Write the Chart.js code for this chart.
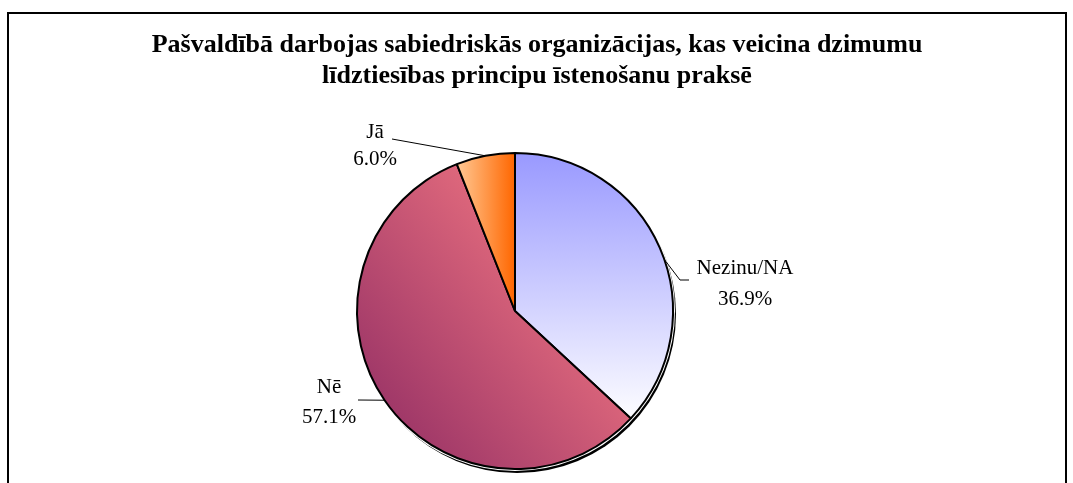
<!DOCTYPE html>
<html><head><meta charset="utf-8">
<script src="https://cdn.jsdelivr.net/npm/chart.js@4.4.0/dist/chart.umd.min.js"></script>
<style>html,body{margin:0;padding:0;background:#fff;overflow:hidden}#wrap{width:1073px;height:483px}</style>
</head><body><div id="wrap"><canvas id="c" width="1073" height="483"></canvas></div>
<script>
const categories = ['Nezinu/NA', 'Nē', 'Jā'];
const values = [36.9, 57.1, 6.0];
const valueLabels = ['36.9%', '57.1%', '6.0%'];
const titleLines = ['Pašvaldībā darbojas sabiedriskās organizācijas, kas veicina dzimumu', 'līdztiesības principu īstenošanu praksē'];

const FONT = '"Liberation Serif", "Times New Roman", serif';

function geom(chart) {
  const a = chart.chartArea;
  const cx = (a.left + a.right) / 2, cy = (a.top + a.bottom) / 2;
  const r = (Math.min(a.right - a.left, a.bottom - a.top) - 2) / 2;
  return {cx, cy, r};
}

function fillFor(ctx) {
  const chart = ctx.chart;
  if (!chart.chartArea) return '#ccc';
  const {cx, cy, r} = geom(chart);
  const c = chart.ctx;
  let g;
  if (ctx.dataIndex === 0) {
    g = c.createLinearGradient(0, cy - r, 0, cy + 0.72 * r);
    g.addColorStop(0, '#9999ff');
    g.addColorStop(1, '#ffffff');
  } else if (ctx.dataIndex === 1) {
    g = c.createLinearGradient(cx - 0.9 * r, cy + 0.7 * r, cx + 0.45 * r, cy - 0.35 * r);
    g.addColorStop(0, '#993366');
    g.addColorStop(1, '#ec7280');
  } else {
    g = c.createLinearGradient(cx - 0.38 * r, 0, cx, 0);
    g.addColorStop(0, '#ffcc99');
    g.addColorStop(1, '#ff6600');
  }
  return g;
}

const labelCfg = [
  {dx: 230, dy1: -43, dy2: -12, ax: 174, ay: -31, ex: 165, ey: -31, sr: 0.08},
  {dx: -186, dy1: 76, dy2: 106, ax: -157, ay: 89, ex: null, ey: null, sr: 0},
  {dx: -140, dy1: -179, dy2: -152, ax: -123, ay: -172, ex: null, ey: null, sr: 0}
];

const decor = {
  id: 'decor',
  beforeDatasetsDraw(chart) {
    const c = chart.ctx;
    const {cx, cy, r} = geom(chart);
    c.save();
    c.fillStyle = '#000';
    c.beginPath(); c.arc(cx + 2, cy + 3, r + 1, 0, Math.PI * 2); c.fill();
    c.strokeStyle = '#fff'; c.lineWidth = 4;
    c.beginPath(); c.arc(cx, cy, r, 0, Math.PI * 2); c.stroke();
    c.restore();
  },
  afterDraw(chart) {
    const c = chart.ctx;
    c.save();
    // frame
    c.strokeStyle = '#000'; c.lineWidth = 2;
    c.beginPath();
    c.moveTo(8, 483); c.lineTo(8, 13); c.lineTo(1066, 13); c.lineTo(1066, 483);
    c.stroke();
    // title
    c.fillStyle = '#000';
    c.textAlign = 'center'; c.textBaseline = 'middle';
    c.font = 'bold 26px ' + FONT;
    c.fillText(titleLines[0], 537, 45);
    c.fillText(titleLines[1], 537, 76);
    // labels
    const meta = chart.getDatasetMeta(0);
    const {cx, cy} = geom(chart);
    c.font = '21px ' + FONT;
    c.lineWidth = 1;
    meta.data.forEach((arc, i) => {
      const p = arc.getProps(['x', 'y', 'startAngle', 'endAngle', 'outerRadius'], true);
      const L = labelCfg[i];
      const mid = (p.startAngle + p.endAngle) / 2 + L.sr;
      const px = p.x + Math.cos(mid) * p.outerRadius;
      const py = p.y + Math.sin(mid) * p.outerRadius;
      c.beginPath();
      c.moveTo(cx + L.ax, cy + L.ay);
      if (L.ex !== null) c.lineTo(cx + L.ex, cy + L.ey);
      c.lineTo(px, py);
      c.stroke();
      c.fillText(categories[i], cx + L.dx, cy + L.dy1);
      c.fillText(valueLabels[i], cx + L.dx, cy + L.dy2);
    });
    c.restore();
  }
};

new Chart(document.getElementById('c'), {
  type: 'pie',
  data: {
    labels: categories,
    datasets: [{
      data: values,
      backgroundColor: fillFor,
      borderColor: '#000',
      borderWidth: 2
    }]
  },
  options: {
    responsive: false,
    animation: false,
    devicePixelRatio: 1,
    layout: {padding: {left: 300, right: 343, top: 152, bottom: 13}},
    plugins: {legend: {display: false}, tooltip: {enabled: false}, title: {display: false}}
  },
  plugins: [decor]
});
</script>
</body></html>
